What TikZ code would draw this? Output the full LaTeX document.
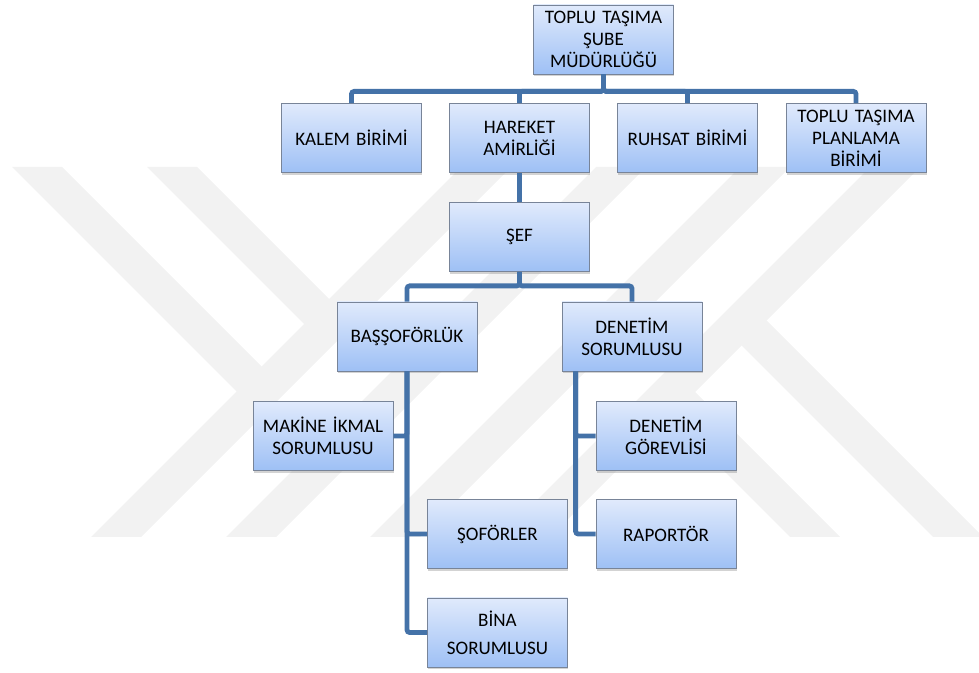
\documentclass[tikz,border=0pt]{standalone}
\usepackage{fontspec}
\setmainfont{Carlito}
\usetikzlibrary{shadows}
\usetikzlibrary{calc}
\definecolor{boxtop}{RGB}{224,234,252}
\definecolor{boxbottom}{RGB}{158,192,245}
\definecolor{boxline}{RGB}{120,132,152}
\definecolor{linkblue}{RGB}{68,114,168}
\definecolor{wmgray}{RGB}{242,242,242}
\tikzstyle{unit} = [draw=boxline, line width=0.6pt, top color=boxtop, bottom color=boxbottom, minimum width=105pt, minimum height=51.75pt, text width=100pt, align=center, inner sep=1pt, font=\fontsize{14.3}{16.5}\selectfont, drop shadow={shadow xshift=0.6pt, shadow yshift=-1.8pt, opacity=0.35}]
\tikzstyle{link} = [draw=linkblue, line width=3.6pt, rounded corners=2pt]
\tikzstyle{wmark} = [fill=wmgray]

\begin{document}
\begin{tikzpicture}[x=0.75pt, y=-0.75pt]
        \useasboundingbox (0,0) rectangle (979,673);
        \fill[wmark] (12,167) -- (62,167) -- (274,379) -- (249,404) -- cycle;
        \fill[wmark] (147,167) -- (197,167) -- (341.5,311.5) -- (316.5,336.5) -- cycle;
        \fill[wmark] (91,537) -- (141,537) -- (511,167) -- (461,167) -- cycle;
        \fill[wmark] (226,537) -- (276,537) -- (646,167) -- (596,167) -- cycle;
        \fill[wmark] (370,537) -- (420,537) -- (790,167) -- (740,167) -- cycle;
        \fill[wmark] (500,537) -- (550,537) -- (920,167) -- (870,167) -- cycle;
        \fill[wmark] (933,537) -- (983,537) -- (754,308) -- (729,333) -- cycle;
        \fill[wmark] (790,537) -- (840,537) -- (682.5,379.5) -- (657.5,404.5) -- cycle;

        \node[unit] (top) at (603.5,39.5) {TOPLU TAŞIMA\\ŞUBE\\MÜDÜRLÜĞÜ};
        \node[unit] (kalem) at (351.5,138) {KALEM BİRİMİ};
        \node[unit] (hareket) at (519.5,138) {HAREKET\\AMİRLİĞİ};
        \node[unit] (ruhsat) at (687.5,138) {RUHSAT BİRİMİ};
        \node[unit] (planlama) at (856,138) {TOPLU TAŞIMA\\PLANLAMA\\BİRİMİ};
        \node[unit] (sef) at (519.5,237) {ŞEF};
        \node[unit] (bas) at (407,336.5) {BAŞŞOFÖRLÜK};
        \node[unit] (denetim) at (632,336.5) {DENETİM\\SORUMLUSU};
        \node[unit] (makine) at (323,436) {MAKİNE İKMAL\\SORUMLUSU};
        \node[unit] (sofor) at (497.5,534) {ŞOFÖRLER};
        \node[unit] (bina) at (497.5,632.5) {BİNA\\[4.5pt]SORUMLUSU};
        \node[unit] (gorevli) at (666,436) {DENETİM\\GÖREVLİSİ};
        \node[unit] (raportor) at (666,534) {RAPORTÖR};
        \coordinate (dtrunk) at ($(denetim.south west)+(14,0)$);

        \draw[link] (top.south) -- ++(0,17) -| (kalem.north);
        \draw[link] (top.south) -- ++(0,17) -| (hareket.north);
        \draw[link] (top.south) -- ++(0,17) -| (ruhsat.north);
        \draw[link] (top.south) -- ++(0,17) -| (planlama.north);
        \draw[link] (hareket) -- (sef);
        \draw[link] (sef.south) -- ++(0,14) -| (bas.north);
        \draw[link] (sef.south) -- ++(0,14) -| (denetim.north);
        \draw[link] (bas.south) |- (makine.east);
        \draw[link] (bas.south) |- (sofor.west);
        \draw[link] (bas.south) |- (bina.west);
        \draw[link] (dtrunk) |- (gorevli.west);
        \draw[link] (dtrunk) |- (raportor.west);
    \end{tikzpicture}
\end{document}
